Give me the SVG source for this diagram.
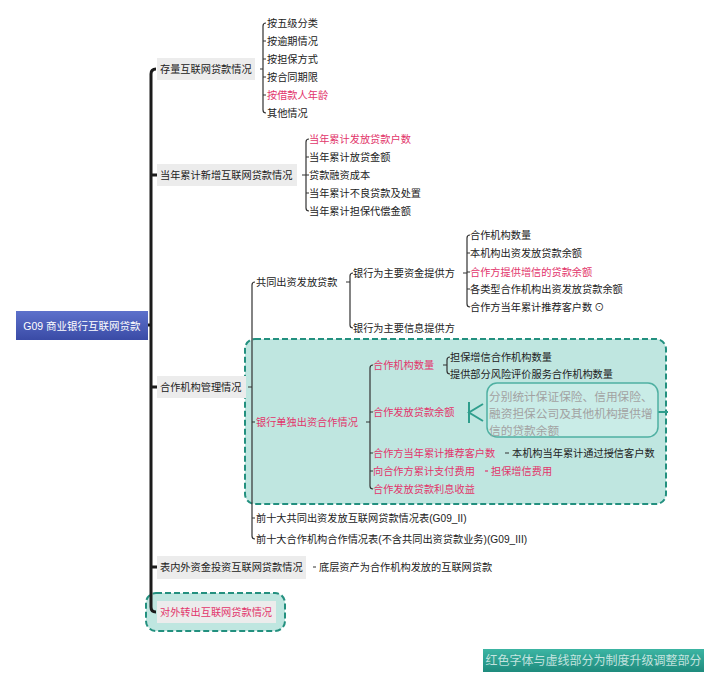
<svg xmlns="http://www.w3.org/2000/svg" width="720" height="686" viewBox="0 0 720 686">
<defs>
<linearGradient id="gRoot" x1="0" y1="0" x2="0" y2="1"><stop offset="0" stop-color="#5d71cb"/><stop offset="1" stop-color="#3a4ba6"/></linearGradient>
<linearGradient id="gFoot" x1="0" y1="0" x2="0" y2="1"><stop offset="0" stop-color="#3cb5a3"/><stop offset="1" stop-color="#1e8b7d"/></linearGradient>
<style>
text{font-family:"Liberation Sans","Noto Sans CJK SC",sans-serif;font-size:10.2px;fill:#222;dominant-baseline:central}
.red{fill:#e2356b}
.gray{fill:#a2a2a2;font-size:11.7px}
.box{fill:#ececec}
.zone{fill:#bfe6e0;stroke:#23907f;stroke-width:2;stroke-dasharray:6 3}
.trunk{fill:none;stroke:#1b1b1b;stroke-width:3}
.br{fill:none;stroke:#333;stroke-width:1.2}
.teal{fill:none;stroke:#2f9e8d;stroke-width:2}
</style>
</defs>
<rect width="720" height="686" fill="#fff"/>

<rect class="zone" x="245" y="339" width="421" height="165" rx="10"/>
<rect class="zone" x="146" y="593" width="139" height="38" rx="10"/>

<g id="connectors">
<path class="trunk" d="M156 69 Q151 69 151 74 V607 Q151 612 156 612 M151 175 H157 M151 387 H157 M151 567 H157 M148 325 H151"/>
<path class="br" d="M260 69 H263 M266 23 Q263 23 263 26 V110 Q263 113 266 113 M263 41 h3 M263 59 h3 M263 77 h3 M263 95 h3"/>
<path class="br" d="M302 175 H306 M309 139 Q306 139 306 142 V208 Q306 211 309 211 M306 157 h3 M306 175 h3 M306 193 h3"/>
<path class="br" d="M248 387 H252 M255 282 Q252 282 252 285 V536 Q252 539 255 539 M252 422 h3 M252 518 h3"/>
<path class="br" d="M346 282 H350 M353 273 Q350 273 350 276 V325 Q350 328 353 328"/>
<path class="br" d="M463 273 H467 M470 235 Q467 235 467 238 V304 Q467 307 470 307 M467 253 h3 M467 272 h3 M467 289 h3"/>
<path class="br" d="M366 422 H370 M373 365 Q370 365 370 368 V486 Q370 489 373 489 M370 412 h3 M370 453 h3 M370 471 h3"/>
<path class="br" d="M443 365 H447 M450 357 Q447 357 447 360 V371 Q447 374 450 374"/>
<path class="br" d="M505 453 H509 M313 567 H316"/>
<path class="br" d="M485 471 H488" style="stroke:#e2356b"/>
<path class="teal" d="M469 402 V423 M483 404 L469 412.5 L483 421 M658 412 H668"/>
</g>

<g id="root">
<rect x="16" y="311" width="132" height="29" fill="url(#gRoot)"/>
<text x="82" y="325.5" text-anchor="middle" style="fill:#fff;font-size:10.5px">G09 商业银行互联网贷款</text>
</g>

<g id="n-stock">
<rect class="box" x="157" y="58" width="98" height="22"/>
<text x="160" y="69">存量互联网贷款情况</text>
</g>
<g id="n-stock-items">
<text x="267" y="23">按五级分类</text>
<text x="267" y="41">按逾期情况</text>
<text x="267" y="59">按担保方式</text>
<text x="267" y="77">按合同期限</text>
<text class="red" x="267" y="95">按借款人年龄</text>
<text x="267" y="113">其他情况</text>
</g>

<g id="n-year">
<rect class="box" x="157" y="164" width="140" height="22"/>
<text x="160" y="175">当年累计新增互联网贷款情况</text>
</g>
<g id="n-year-items">
<text class="red" x="309" y="139">当年累计发放贷款户数</text>
<text x="309" y="157">当年累计放贷金额</text>
<text x="309" y="175">贷款融资成本</text>
<text x="309" y="193">当年累计不良贷款及处置</text>
<text x="309" y="211">当年累计担保代偿金额</text>
</g>

<g id="n-coop">
<rect class="box" x="157" y="376" width="89" height="22"/>
<text x="160" y="387">合作机构管理情况</text>
</g>

<g id="n-joint">
<text x="256" y="282">共同出资发放贷款</text>
</g>
<g id="n-fund">
<text x="353" y="273">银行为主要资金提供方</text>
</g>
<g id="n-fund-items">
<text x="470" y="235">合作机构数量</text>
<text x="470" y="253">本机构出资发放贷款余额</text>
<text class="red" x="470" y="272">合作方提供增信的贷款余额</text>
<text x="470" y="289">各类型合作机构出资发放贷款余额</text>
<text x="470" y="307">合作方当年累计推荐客户数<tspan dx="2" style="font-size:10px">⊙</tspan></text>
</g>
<g id="n-info">
<text x="353" y="328">银行为主要信息提供方</text>
</g>

<g id="n-single">
<text class="red" x="256" y="422">银行单独出资合作情况</text>
</g>
<g id="n-single-count">
<text class="red" x="373" y="365">合作机构数量</text>
<text x="450" y="357">担保增信合作机构数量</text>
<text x="450" y="374">提供部分风险评价服务合作机构数量</text>
</g>
<g id="n-single-balance">
<text class="red" x="373" y="412">合作发放贷款余额</text>
<rect x="487" y="383" width="171" height="54" rx="10" fill="#c9ece7" stroke="#4fb0a2" stroke-width="1.5"/>
<text class="gray" x="489" y="396">分别统计保证保险、信用保险、</text>
<text class="gray" x="489" y="413">融资担保公司及其他机构提供增</text>
<text class="gray" x="489" y="430">信的贷款余额</text>
</g>
<g id="n-single-rec">
<text class="red" x="373" y="453">合作方当年累计推荐客户数</text>
<text x="512" y="453">本机构当年累计通过授信客户数</text>
</g>
<g id="n-single-fee">
<text class="red" x="373" y="471">向合作方累计支付费用</text>
<text class="red" x="491" y="471">担保增信费用</text>
</g>
<g id="n-single-int">
<text class="red" x="373" y="489">合作发放贷款利息收益</text>
</g>

<g id="n-top10a">
<text x="256" y="518">前十大共同出资发放互联网贷款情况表(G09_II)</text>
</g>
<g id="n-top10b">
<text x="256" y="539">前十大合作机构合作情况表(不含共同出资贷款业务)(G09_III)</text>
</g>

<g id="n-invest">
<rect class="box" x="157" y="556" width="149" height="23"/>
<text x="160" y="567">表内外资金投资互联网贷款情况</text>
<text x="319" y="567">底层资产为合作机构发放的互联网贷款</text>
</g>

<g id="n-transfer">
<rect class="box" x="157" y="601" width="119" height="22"/>
<text class="red" x="160" y="612">对外转出互联网贷款情况</text>
</g>

<g id="legend">
<rect x="483" y="649" width="221" height="23" fill="url(#gFoot)"/>
<text x="593.5" y="661" text-anchor="middle" style="fill:#fff;fill-opacity:0.72;font-size:12px">红色字体与虚线部分为制度升级调整部分</text>
</g>
</svg>
